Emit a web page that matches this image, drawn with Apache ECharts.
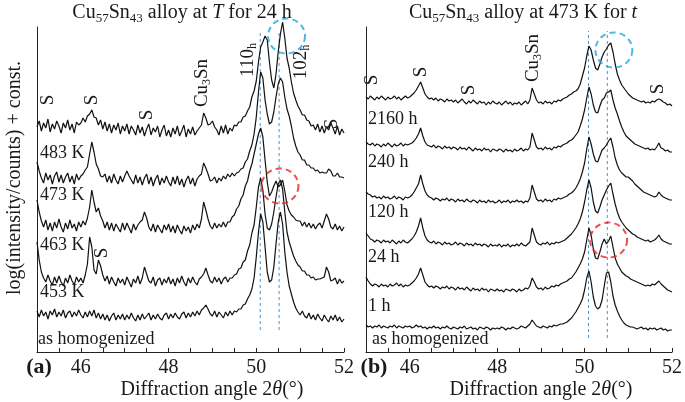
<!DOCTYPE html>
<html><head><meta charset="utf-8">
<script src="https://cdn.jsdelivr.net/npm/echarts@6/dist/echarts.min.js"></script>
<style>html,body{margin:0;padding:0;background:#fff}#c{width:685px;height:402px}</style>
</head><body><div id="c"></div>
<script>
// Sampling grid of diffraction angle (deg)
const angleStart = 45, angleStep = 0.05;
const xTickValues = [46, 48, 50, 52];
// Peak reference positions (dashed lines), deg
const refAngles = [50.09, 50.52];

// Left panel: log(intensity)+const, 45.00..52.00 step 0.05
const T483 = [
225,231,221,229,224,233,220,228,223,231,226,219,229,224,232,222,228,219,230,227,
229,234,230,236,238,242,235,234,227,232,223,230,221,228,219,227,222,229,218,226,
221,228,218,226,222,217,227,219,225,216,223,228,217,224,220,226,215,222,227,216,
222,215,224,218,226,216,221,227,215,223,218,225,217,221,224,227,239,234,227,228,
231,225,222,217,226,219,227,218,224,221,227,226,230,230,235,236,241,245,255,261,
271,290,305,310,316,312,290,272,264,278,300,318,330,314,294,284,270,259,252,246,
242,237,237,232,231,226,227,222,228,220,226,219,225,222,229,224,218,226,217,223,
219];
const T473 = [
190,181,174,169,179,172,177,168,176,180,170,177,169,175,179,170,176,168,178,172,
176,178,182,185,198,210,200,188,183,176,175,178,170,176,169,178,172,168,176,170,
176,181,176,172,168,177,169,175,167,174,178,168,175,166,173,177,167,174,169,176,
170,166,175,168,176,167,173,165,172,176,168,174,166,173,176,178,189,184,178,171,
172,175,169,174,171,176,173,178,175,179,176,179,180,183,184,190,193,201,207,218,
235,260,280,274,252,238,228,230,240,255,268,274,270,255,243,236,226,214,206,200,
197,192,192,187,187,184,184,181,182,179,180,179,179,183,181,176,176,179,175,175,
174];
const T463 = [
152,140,131,125,132,122,129,121,130,124,133,125,120,129,123,132,124,128,121,130,
125,131,127,134,145,162,150,140,144,136,131,124,130,122,129,121,128,124,120,129,
122,129,124,119,128,122,127,130,132,140,134,125,121,128,120,127,123,119,127,122,
128,120,126,119,127,122,118,126,121,125,119,127,122,128,124,133,150,142,133,126,
123,129,124,128,125,130,125,130,130,135,137,143,146,153,157,166,171,181,188,198,
208,218,224,215,192,170,156,160,166,171,165,167,172,161,147,141,137,135,132,131,
131,126,130,125,129,124,128,123,127,129,124,131,138,133,125,123,128,122,126,121,
125];
const T453 = [
110,92,80,74,70,77,71,67,75,69,76,70,66,74,69,77,71,67,75,70,
74,69,77,88,115,105,82,78,92,86,77,71,76,68,75,70,66,74,69,73,
67,75,70,65,73,69,76,68,74,85,78,71,69,75,66,72,74,67,73,69,
75,68,73,66,74,69,76,70,66,74,69,75,70,67,73,75,78,84,77,71,
69,75,70,74,68,73,75,70,74,74,77,78,83,84,90,92,101,107,119,127,
145,165,174,162,138,124,122,128,140,155,168,172,163,140,120,110,103,96,91,87,
85,81,81,77,77,74,75,72,73,73,74,75,85,80,71,72,74,68,73,69,
71];
const T_homog = [
41,35,42,36,40,33,41,37,43,35,40,36,42,34,39,41,35,40,36,42,
37,34,40,35,41,36,42,34,39,33,38,32,37,31,36,39,32,37,33,38,
32,37,33,39,34,31,37,32,38,33,36,39,32,37,33,38,34,32,37,39,
33,38,34,39,35,33,38,40,34,39,35,40,36,41,37,42,44,47,43,38,
36,41,35,40,37,34,40,36,41,37,41,40,43,43,47,48,53,57,63,74,
95,120,138,130,105,80,70,72,85,108,130,140,128,100,80,66,58,50,44,40,
37,41,36,34,39,33,37,32,38,34,31,37,33,30,36,32,37,31,35,30,
33];

// Right panel
const H2160 = [
255,253,256,254,252,255,253,256,254,252,255,253,254,256,253,255,252,254,256,254,
255,257,259,262,266,270,264,258,255,253,254,252,254,251,253,252,250,253,251,252,
250,252,249,251,253,250,248,251,249,252,250,248,251,249,250,247,250,248,251,249,
248,250,247,249,251,248,250,247,249,248,250,247,249,251,248,252,264,258,252,249,
250,248,251,249,250,248,251,250,252,251,253,254,255,257,258,260,261,263,268,276,
284,296,306,302,292,284,282,288,295,300,303,307,309,300,288,278,272,267,264,261,
258,256,254,253,252,251,250,251,249,250,249,251,250,252,253,252,250,249,247,248,
246];
const H240 = [
210,208,207,209,206,208,207,205,208,206,209,207,205,208,206,207,209,206,208,207,
208,209,211,214,218,224,216,210,207,206,205,207,204,206,205,203,206,204,205,203,
205,204,202,205,203,204,202,205,203,201,204,202,203,201,204,202,203,200,203,202,
201,203,202,200,203,201,202,200,203,201,202,204,201,203,202,205,219,212,205,203,
204,202,205,203,204,202,205,204,206,205,207,208,209,211,212,214,217,220,226,233,
242,254,265,258,247,240,239,246,252,254,259,260,262,252,244,238,231,225,220,216,
214,212,210,208,207,206,205,204,203,204,202,203,202,205,209,204,203,201,202,200,
200];
const H120 = [
160,158,157,155,156,154,155,153,156,154,155,153,154,156,153,155,154,152,155,154,
155,157,160,164,168,177,168,161,157,155,154,152,154,153,151,153,152,154,151,153,
152,150,153,151,152,150,153,151,150,152,151,149,152,150,151,149,152,150,151,149,
150,152,149,151,150,152,149,151,150,152,150,151,149,151,150,154,167,160,153,151,
152,150,153,151,152,150,153,152,154,153,154,155,156,158,159,161,164,168,173,180,
189,203,215,208,198,191,190,196,202,204,207,211,214,205,194,187,182,179,177,175,
175,173,171,168,166,164,162,160,159,158,157,156,155,156,160,157,155,154,153,152,
152];
const H24 = [
119,116,113,112,110,112,111,109,112,110,111,109,112,110,108,111,109,112,110,109,
111,113,116,120,126,134,124,116,112,110,109,111,108,110,109,107,110,108,109,107,
108,110,107,109,108,106,109,107,108,106,109,107,108,106,108,107,105,108,106,107,
106,108,105,107,106,108,105,107,106,108,106,109,107,106,108,110,124,117,110,108,
107,109,108,110,107,109,108,110,109,110,111,112,114,116,118,121,124,128,133,140,
150,162,172,164,150,141,139,145,152,157,162,166,169,158,148,140,134,130,127,124,
122,120,118,117,115,114,113,112,111,112,110,111,112,114,117,113,111,110,109,108,
108];
const H1 = [
75,71,68,66,68,67,65,68,66,67,65,68,66,67,69,66,68,65,67,66,
67,69,71,74,78,84,77,70,67,65,66,64,66,65,63,65,64,66,63,65,
64,62,65,63,64,62,65,63,61,64,62,63,61,64,62,63,60,63,62,61,
63,61,62,60,63,62,61,63,62,60,63,61,62,64,63,66,74,70,65,63,
64,62,65,63,64,66,65,67,66,68,69,70,71,73,74,77,80,84,88,93,
100,112,124,117,103,94,93,100,108,113,108,111,116,105,94,88,84,80,78,76,
75,73,72,71,70,69,68,67,66,67,66,68,67,69,71,68,66,64,62,61,
60];
const H_homog = [
27,25,26,24,26,25,27,24,26,25,24,26,25,27,24,26,25,24,26,25,
26,24,25,27,25,26,24,25,23,25,24,26,24,25,23,25,24,26,24,23,
25,24,23,25,24,26,23,24,25,23,24,22,25,24,23,25,24,22,24,23,
24,23,25,24,22,24,23,25,24,23,24,26,25,24,26,28,32,29,26,25,
24,26,25,24,26,25,27,26,27,28,28,29,30,32,34,37,40,44,48,53,
62,74,81,70,55,46,43,45,52,66,79,80,70,56,47,41,36,32,29,27,
26,25,25,24,23,24,25,23,24,22,24,23,24,22,23,24,22,23,21,22,
22];

// Highlight circles [angle, value]
const leftBlueCircle = [50.69, 316];
const leftRedCircle = [50.54, 166];
const rightBlueCircle = [50.67, 302];
const rightRedCircle = [50.55, 112];
// Extents of dashed reference lines [bottom, top] in value units
const leftRefExtent = [22, 322];
const rightRefExtent = [14, 321];

const leftTraces = [T483, T473, T463, T453, T_homog];
const rightTraces = [H2160, H240, H120, H24, H1, H_homog];

function toPairs(vals){ return vals.map((v,i)=>[+(angleStart+i*angleStep).toFixed(2), v]); }

const FONT = 'Liberation Serif';
const INK = '#1a1a1a';

function xAxisDef(gi){
  return {gridIndex: gi, type:'value', min:45, max:52, interval:0.5,
    axisLine:{show:true, lineStyle:{color:'#222', width:1}},
    axisTick:{show:true, inside:true, length:4, lineStyle:{color:'#222'}},
    axisLabel:{fontFamily:FONT, fontSize:20, color:INK, margin:6,
      formatter:v => xTickValues.indexOf(v) >= 0 ? String(v) : ''},
    splitLine:{show:false}};
}
function yAxisDef(gi){
  return {gridIndex: gi, type:'value', min:0, max:325,
    axisLine:{show:true, lineStyle:{color:'#222', width:1}},
    axisTick:{show:false}, axisLabel:{show:false}, splitLine:{show:false}};
}

const series = [];
leftTraces.forEach(arr => series.push({type:'line', xAxisIndex:0, yAxisIndex:0, data:toPairs(arr),
  showSymbol:false, clip:false, lineStyle:{color:'#111', width:1.2}, silent:true}));
rightTraces.forEach(arr => series.push({type:'line', xAxisIndex:1, yAxisIndex:1, data:toPairs(arr),
  showSymbol:false, clip:false, lineStyle:{color:'#111', width:1.2}, silent:true}));
[[0,leftRefExtent],[1,rightRefExtent]].forEach(([gi,ext]) => {
  refAngles.forEach(a => series.push({type:'line', xAxisIndex:gi, yAxisIndex:gi,
    data:[[a, ext[0]],[a, ext[1]]], showSymbol:false, clip:false, z:1,
    lineStyle:{color:'#3f97e0', width:1, type:[3,3]}, silent:true}));
});
function circle(gi, pt, color){
  series.push({type:'scatter', xAxisIndex:gi, yAxisIndex:gi, data:[pt], symbol:'circle',
    symbolSize:[37,35], clip:false, silent:true, z:5,
    itemStyle:{color:'rgba(0,0,0,0)', borderColor:color, borderWidth:2, borderType:[6,4]}});
}
circle(0, leftBlueCircle, '#22a7e0');
circle(0, leftRedCircle, '#e5262b');
circle(1, rightBlueCircle, '#22a7e0');
circle(1, rightRedCircle, '#e5262b');

const rich = {
  n:{fontFamily:FONT, fontSize:20, color:INK, lineHeight:24, verticalAlign:'middle'},
  i:{fontFamily:FONT, fontSize:20, color:INK, fontStyle:'italic', lineHeight:24, verticalAlign:'middle'},
  s:{fontFamily:FONT, fontSize:13, color:INK, lineHeight:13, verticalAlign:'bottom'}
};
const richSm = {
  n:{fontFamily:FONT, fontSize:19, color:INK, lineHeight:22, verticalAlign:'middle'},
  s:{fontFamily:FONT, fontSize:12, color:INK, lineHeight:12, verticalAlign:'bottom'}
};
function txt(x, y, text, opts){
  opts = opts || {};
  return {type:'text', x:x, y:y, rotation: opts.rot || 0, silent:true, z:10,
    style:{text:text, rich: opts.rich || rich, fontFamily:FONT, fontSize: opts.size || 20,
      fontWeight: opts.weight || 'normal', fill:INK, align: opts.align || 'center', verticalAlign:'middle'}};
}
const R = Math.PI/2;
const graphics = [
  txt(182, 13, '{n|Cu}{s|57}{n|Sn}{s|43}{n| alloy at }{i|T}{n| for 24 h}'),
  txt(523, 13, '{n|Cu}{s|57}{n|Sn}{s|43}{n| alloy at 473 K for }{i|t}'),
  txt(15, 178, 'log(intensity/counts) + const.', {rot:R}),
  txt(212, 390, '{n|Diffraction angle 2}{i|θ}{n|(°)}'),
  txt(541, 390, '{n|Diffraction angle 2}{i|θ}{n|(°)}'),
  txt(39, 367, '(a)', {size:22, weight:'bold'}),
  txt(374, 367, '(b)', {size:22, weight:'bold'}),
  // left trace labels
  txt(40, 153, '483 K', {size:18, align:'left'}),
  txt(40, 195, '473 K', {size:18, align:'left'}),
  txt(40, 245, '463 K', {size:18, align:'left'}),
  txt(40, 292, '453 K', {size:18, align:'left'}),
  txt(38, 339, 'as homogenized', {size:18, align:'left'}),
  // right trace labels
  txt(368, 119, '2160 h', {size:18, align:'left'}),
  txt(368, 162, '240 h', {size:18, align:'left'}),
  txt(368, 212, '120 h', {size:18, align:'left'}),
  txt(368, 257, '24 h', {size:18, align:'left'}),
  txt(368, 306, '1 h', {size:18, align:'left'}),
  txt(372, 339, 'as homogenized', {size:18, align:'left'}),
  // left annotations
  txt(48, 100, 'S', {rot:R, size:19}),
  txt(92, 100, 'S', {rot:R, size:19}),
  txt(147, 115, 'S', {rot:R, size:19}),
  txt(332, 124, 'S', {rot:R, size:19}),
  txt(102, 253, 'S', {rot:R, size:19}),
  txt(202, 83, '{n|Cu}{s|3}{n|Sn}', {rot:R, rich:richSm}),
  txt(248, 60, '{n|110}{s|h}', {rot:R, rich:richSm}),
  txt(301, 62, '{n|102}{s|h}', {rot:R, rich:richSm}),
  // right annotations
  txt(372, 80, 'S', {rot:R, size:19}),
  txt(421, 72, 'S', {rot:R, size:19}),
  txt(469, 90, 'S', {rot:R, size:19}),
  txt(658, 89, 'S', {rot:R, size:19}),
  txt(533, 58, '{n|Cu}{s|3}{n|Sn}', {rot:R, rich:richSm})
];

const chart = echarts.init(document.getElementById('c'), null, {renderer:'canvas'});
chart.setOption({
  animation:false,
  backgroundColor:'#fff',
  grid:[
    {left:37, top:27, width:307, bottom:50, containLabel:false},
    {left:366, top:27, width:307, bottom:50, containLabel:false}
  ],
  xAxis:[xAxisDef(0), xAxisDef(1)],
  yAxis:[yAxisDef(0), yAxisDef(1)],
  series: series,
  graphic: graphics
});
</script></body></html>
